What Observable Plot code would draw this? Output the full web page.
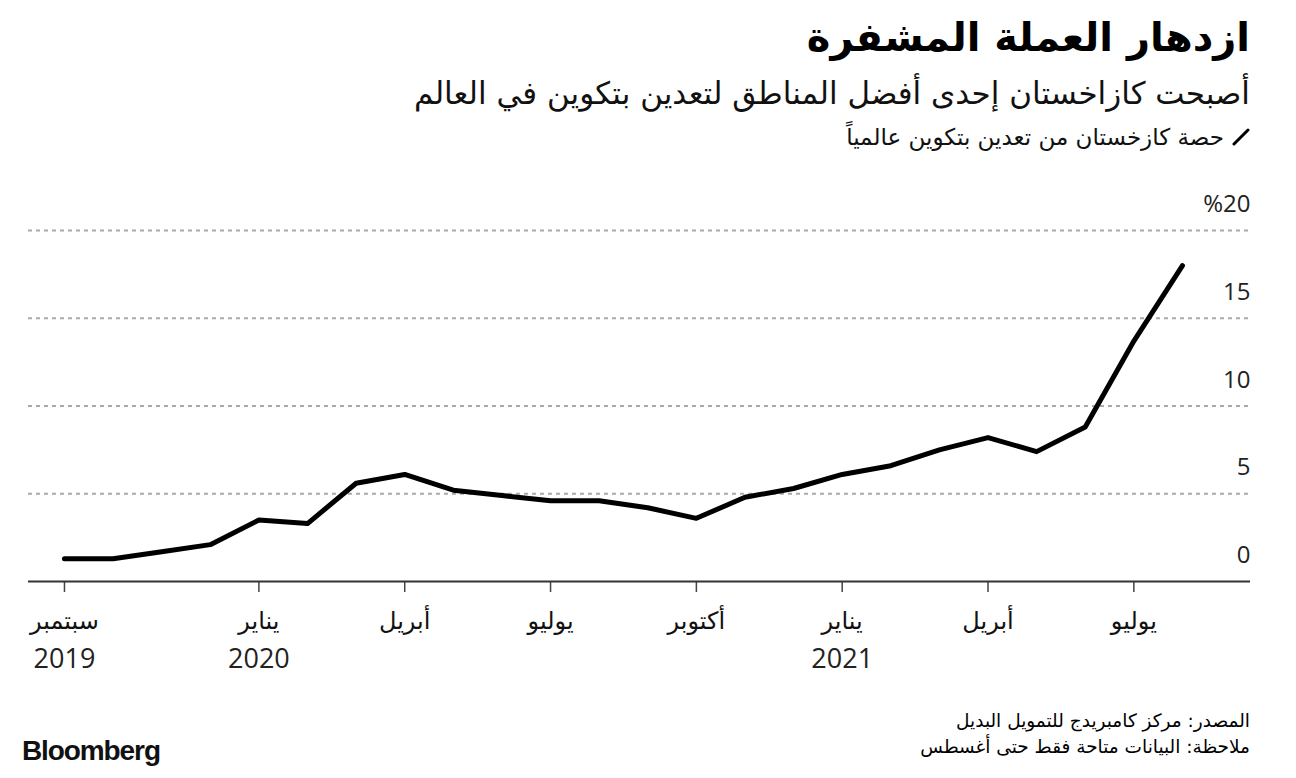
<!DOCTYPE html>
<html><head><meta charset="utf-8">
<script src="https://cdn.jsdelivr.net/npm/d3@7"></script>
<script src="https://cdn.jsdelivr.net/npm/@observablehq/plot@0.6"></script>
<style>
body{margin:0;background:#fff;width:1296px;height:778px;position:relative;overflow:hidden;font-family:"DejaVu Sans",sans-serif;}
.rt{position:absolute;right:46px;direction:rtl;text-align:right;white-space:nowrap;color:#000;line-height:1.05;}
#title{top:16px;font-size:40px;font-weight:bold;}
#subtitle{top:77px;font-size:31px;color:#111;}
#legend{top:125px;font-size:23px;color:#111;display:flex;align-items:center;gap:8px;}
#legend svg{display:block}
#chart{position:absolute;left:0;top:165px;}
#src{top:711px;font-size:18.5px;}
#note{top:737px;font-size:18.5px;}
#logo{position:absolute;left:22px;top:736px;font-family:"Liberation Sans",Arial,sans-serif;font-weight:bold;font-size:28px;letter-spacing:-1.1px;color:#111;line-height:1.05;}
</style></head>
<body>
<div id="title" class="rt">ازدهار العملة المشفرة</div>
<div id="subtitle" class="rt">أصبحت كازاخستان إحدى أفضل المناطق لتعدين بتكوين في العالم</div>
<div id="legend" class="rt"><svg width="18" height="18"><line x1="2" y1="16" x2="16" y2="2" stroke="#000" stroke-width="3" stroke-linecap="round"/></svg><span>حصة كازخستان من تعدين بتكوين عالمياً</span></div>
<div id="chart"></div>
<div id="src" class="rt">المصدر: مركز كامبريدج للتمويل البديل</div>
<div id="note" class="rt">ملاحظة: البيانات متاحة فقط حتى أغسطس</div>
<div id="logo">Bloomberg</div>
<script>
const months = ["2019-09","2019-10","2019-11","2019-12","2020-01","2020-02","2020-03","2020-04","2020-05","2020-06","2020-07","2020-08","2020-09","2020-10","2020-11","2020-12","2021-01","2021-02","2021-03","2021-04","2021-05","2021-06","2021-07","2021-08"];
const share = [1.3,1.3,1.7,2.1,3.5,3.3,5.6,6.1,5.2,4.9,4.6,4.6,4.2,3.6,4.8,5.3,6.1,6.6,7.5,8.2,7.4,8.8,13.7,18.0];
const tickMonths = ["2019-09","2020-01","2020-04","2020-07","2020-10","2021-01","2021-04","2021-07"];
const tickMonthLabels = ["سبتمبر","يناير","أبريل","يوليو","أكتوبر","يناير","أبريل","يوليو"];
const tickYearLabels = ["2019","2020","","","","2021","",""];
const yTicks = [0,5,10,15,20];
const yTickLabels = ["0","5","10","15","%20"];

const idx = m => { const [y, mo] = m.split("-").map(Number); return (y - 2019) * 12 + (mo - 9); };
const data = months.map((m, i) => ({i: idx(m), v: share[i]}));
const ticks = tickMonths.map((m, k) => ({i: idx(m), month: tickMonthLabels[k], year: tickYearLabels[k]}));
const yt = yTicks.map((v, k) => ({v, label: yTickLabels[k]}));

const chart = Plot.plot({
  width: 1296, height: 520,
  marginLeft: 28, marginRight: 46, marginTop: 65, marginBottom: 104,
  x: {type: "linear", domain: [-0.74, 24.4], axis: null},
  y: {type: "linear", domain: [0, 20], axis: null},
  style: {fontFamily: "'DejaVu Sans',sans-serif", background: "#fff", overflow: "visible"},
  marks: [
    Plot.ruleY(yTicks.filter(v => v > 0), {stroke: "#aaa", strokeWidth: 2, strokeDasharray: "4,4"}),
    Plot.ruleX(ticks, {x: "i", y1: 0, y2: -0.63, stroke: "#444", strokeWidth: 1.5}),
    Plot.ruleY([0], {stroke: "#333", strokeWidth: 2}),
    Plot.line(data, {x: "i", y: "v", stroke: "#000", strokeWidth: 5, strokeLinejoin: "round", strokeLinecap: "round"}),
    Plot.text(yt, {y: "v", text: "label", frameAnchor: "right", textAnchor: "end", dy: -26, fontSize: 24, fill: "#222", fontFamily: "'Open Sans',sans-serif"}),
    Plot.text(ticks, {x: "i", y: 0, text: "month", dy: 40, fontSize: 24, fill: "#111"}),
    Plot.text(ticks, {x: "i", y: 0, text: "year", dy: 78, fontSize: 27, fill: "#222", fontFamily: "'Open Sans',sans-serif"})
  ]
});
document.getElementById("chart").appendChild(chart);
</script>
</body></html>
